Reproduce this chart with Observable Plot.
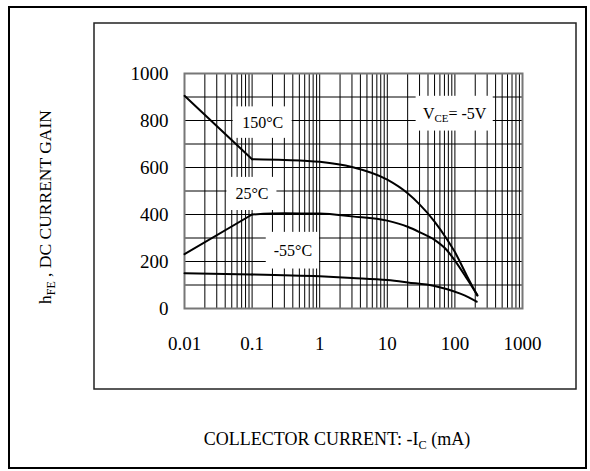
<!DOCTYPE html>
<html><head><meta charset="utf-8">
<script src="https://cdn.jsdelivr.net/npm/d3@7"></script>
<script src="https://cdn.jsdelivr.net/npm/@observablehq/plot@0.6"></script>
<style>
html,body{margin:0;padding:0;background:#fff;}
#chart{position:relative;width:590px;height:471px;}
svg{display:block;}
svg text{font-family:"Liberation Serif","Times New Roman",serif;font-weight:normal;}
</style></head><body><div id="chart"></div>
<script>
// ---- data ----
const xTicks = [0.01, 0.1, 1, 10, 100, 1000];
const xTickLabels = ["0.01", "0.1", "1", "10", "100", "1000"];
const yTicks = [0, 200, 400, 600, 800, 1000];
const yTickLabels = ["0", "200", "400", "600", "800", "1000"];

const current150 = [0.01, 0.1, 0.3, 1, 3, 10, 20, 30, 50, 75, 100, 150, 215];
const gain150    = [905, 635, 632, 624, 602, 548, 490, 443, 370, 298, 240, 140, 55];
const current25  = [0.01, 0.1, 0.3, 1, 3, 10, 20, 30, 50, 75, 100, 150, 215];
const gain25     = [231, 400, 405, 404, 392, 374, 348, 325, 292, 250, 204, 128, 57];
const currentM55 = [0.01, 0.1, 1, 3, 10, 20, 50, 75, 120, 160, 210];
const gainM55    = [150, 145, 137, 130, 121, 111, 96, 83, 63, 47, 29];

const seriesNames = ["150°C", "25°C", "-55°C"];

const labelText = ["150°C", "25°C", "-55°C", "V_CE= -5V"];
const labelX1 = [0.0525, 0.0424, 0.162, 26.7];
const labelX2 = [0.392, 0.233, 0.993, 369];
const labelY1 = [724, 417, 168, 755];
const labelY2 = [858, 558, 324, 903];

const xTitle = "COLLECTOR CURRENT: -I_C (mA)";
const yTitle = "h_FE , DC CURRENT GAIN";

// ---- build tables ----
const series = [
  {name: seriesNames[0], xs: current150, ys: gain150},
  {name: seriesNames[1], xs: current25, ys: gain25},
  {name: seriesNames[2], xs: currentM55, ys: gainM55}
];
const straightRows = [], smoothRows = [];
for (const s of series) {
  s.xs.forEach((x, i) => {
    const row = {series: s.name, x, y: s.ys[i]};
    if (i <= 1) straightRows.push(row);
    if (i >= 1) smoothRows.push(row);
  });
}
const labels = labelText.map((t, i) => ({text: t, x1: labelX1[i], x2: labelX2[i], y1: labelY1[i], y2: labelY2[i]}));

const gridXs = d3.scaleLog().domain([0.01, 1000]).ticks(60);
const gridYs = d3.range(0, 1001, 100);

const font = '"Liberation Serif","Times New Roman",serif';

const plot = Plot.plot({
  width: 590, height: 471,
  marginLeft: 184, marginRight: 68, marginTop: 73, marginBottom: 163,
  style: {fontFamily: font, background: "transparent", color: "#000", overflow: "visible"},
  x: {type: "log", domain: [0.01, 1000]},
  y: {domain: [0, 1000]},
  marks: [
    Plot.ruleX(gridXs, {x: d => d, stroke: "#000", strokeWidth: 1}),
    Plot.ruleY(gridYs, {y: d => d, stroke: "#000", strokeWidth: 1}),
    Plot.rect(labels, {x1: "x1", x2: "x2", y1: "y1", y2: "y2", fill: "white"}),
    Plot.frame({stroke: "#777", strokeWidth: 2}),
    Plot.line(straightRows, {x: "x", y: "y", z: "series", stroke: "#000", strokeWidth: 2, curve: "linear"}),
    Plot.line(smoothRows, {x: "x", y: "y", z: "series", stroke: "#000", strokeWidth: 2, curve: "monotone-x"}),
    Plot.text(labels, {x: d => Math.sqrt(d.x1 * d.x2), y: d => (d.y1 + d.y2) / 2, text: "text", fontSize: 16, fill: "#000", fontFamily: font}),
    Plot.axisX(xTicks, {tickSize: 0, tickPadding: 28, fontSize: 19, fontFamily: font, tickFormat: d => xTickLabels[xTicks.indexOf(d)], label: null}),
    Plot.axisY(yTicks, {tickSize: 0, tickPadding: 16, fontSize: 19, fontFamily: font, tickFormat: d => yTickLabels[yTicks.indexOf(d)], label: null})
  ]
});

const svg = d3.select(plot);

// subscript helper
function writeSub(sel, str, size) {
  sel.text(null);
  const m = str.match(/^(.*?)_([A-Z]+)(.*)$/);
  if (!m) { sel.text(str); return; }
  sel.append("tspan").text(m[1]);
  sel.append("tspan").attr("font-size", size * 0.68).attr("dy", size * 0.22).text(m[2]);
  sel.append("tspan").attr("dy", -size * 0.22).text(m[3]);
}

// label with subscript
svg.selectAll("text").each(function () {
  if (this.textContent === "V_CE= -5V") writeSub(d3.select(this), "V_CE= -5V", 16);
});

// frames
svg.append("rect").attr("x", 9).attr("y", 7).attr("width", 577).attr("height", 461)
  .attr("fill", "none").attr("stroke", "#000").attr("stroke-width", 2);
svg.append("rect").attr("x", 94).attr("y", 23).attr("width", 482).attr("height", 366)
  .attr("fill", "none").attr("stroke", "#222").attr("stroke-width", 1.5);

// axis titles
const xt = svg.append("text").attr("x", 337).attr("y", 445).attr("text-anchor", "middle")
  .attr("font-family", font).attr("font-size", 18).attr("fill", "#000");
writeSub(xt, xTitle, 18);
const yt = svg.append("text").attr("transform", "translate(51,207) rotate(-90)").attr("text-anchor", "middle")
  .attr("font-family", font).attr("font-size", 17.5).attr("fill", "#000");
writeSub(yt, yTitle, 17.5);

document.getElementById("chart").appendChild(plot);
</script></body></html>
